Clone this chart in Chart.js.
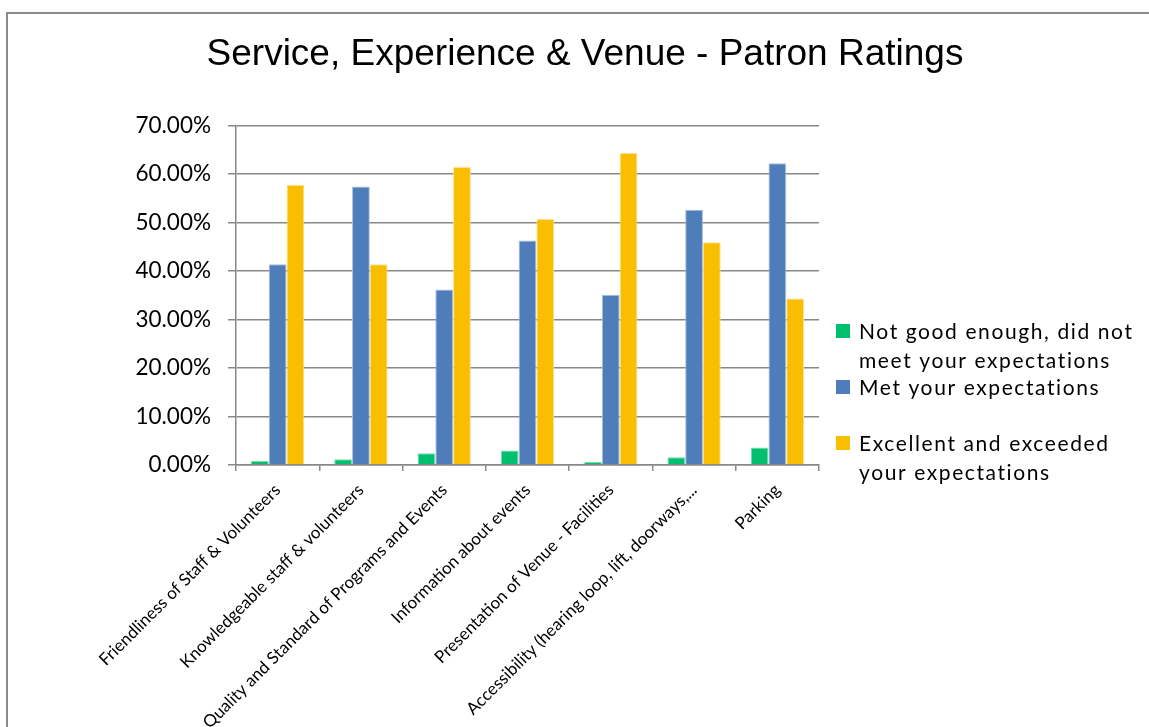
<!DOCTYPE html>
<html>
<head>
<meta charset="utf-8">
<title>Service, Experience & Venue - Patron Ratings</title>
<script src="https://cdn.jsdelivr.net/npm/chart.js@4.4.1/dist/chart.umd.min.js"></script>
<style>
    html, body { margin: 0; padding: 0; background: #fff; overflow: hidden; }
    .frame {
        position: absolute; left: 6px; top: 12px; width: 1300px; height: 900px;
        border-left: 2px solid #8a8a8a; border-top: 2px solid #8a8a8a;
    }
    .wrap { position: absolute; left: 0; top: 0; width: 1170px; height: 727px; }
</style>
</head>
<body>
<div class="frame"></div>
<div class="wrap"><canvas id="ratingsChart"></canvas></div>
<script>
// chart data (percent of patrons)
const categories = [
    'Friendliness of Staff & Volunteers',
    'Knowledgeable staff & volunteers',
    'Quality and Standard of Programs and Events',
    'Information about events',
    'Presentation of Venue - Facilities',
    'Accessibility (hearing loop, lift, doorways,...',
    'Parking'
];
const seriesNames = [
    ['Not good enough, did not', 'meet your expectations'],
    ['Met your expectations'],
    ['Excellent and exceeded', 'your expectations']
];
const notGoodEnough = [0.8, 1.2, 2.4, 3.0, 0.6, 1.6, 3.6];
const metExpectations = [41.4, 57.4, 36.2, 46.3, 35.1, 52.6, 62.2];
const exceededExpectations = [57.7, 41.4, 61.4, 50.7, 64.3, 45.9, 34.3];
const yTicks = [0, 10, 20, 30, 40, 50, 60, 70];

const colors = ['#00BF6F', '#4F7DB9', '#F9BE00'];
const borders = ['#7fdcb0', '#a6bedd', '#fde08a'];

// legend in Excel style, drawn to the right of the plot
const legendY = [332, 388, 444];
const sideLegend = {
    id: 'sideLegend',
    afterDraw(chart) {
        const ctx = chart.ctx;
        const x = chart.chartArea.right + 17;
        ctx.save();
        ctx.font = '21px Lato';
        ctx.letterSpacing = '1.6px';
        ctx.textBaseline = 'middle';
        seriesNames.forEach(function (lines, i) {
            ctx.fillStyle = colors[i];
            ctx.fillRect(x, legendY[i] - 8, 14, 14);
            ctx.fillStyle = '#000';
            lines.forEach(function (line, j) {
                ctx.fillText(line, x + 23, legendY[i] + j * 29);
            });
        });
        ctx.restore();
    }
};

const seriesData = [notGoodEnough, metExpectations, exceededExpectations];

new Chart(document.getElementById('ratingsChart'), {
    type: 'bar',
    data: {
        labels: categories,
        datasets: seriesData.map(function (values, i) {
            return {
                label: seriesNames[i].join(' '),
                data: values,
                backgroundColor: colors[i],
                borderColor: borders[i],
                borderWidth: 1,
                categoryPercentage: 0.64,
                barPercentage: 1
            };
        })
    },
    options: {
        responsive: true,
        maintainAspectRatio: false,
        animation: false,
        layout: { padding: 0 },
        plugins: {
            legend: { display: false },
            tooltip: { enabled: false },
            title: {
                display: true,
                text: 'Service, Experience & Venue - Patron Ratings',
                color: '#000',
                font: { family: 'Liberation Sans', size: 37, weight: 'normal' },
                padding: { top: 33, bottom: 48 }
            }
        },
        scales: {
            x: {
                offset: true,
                grid: {
                    offset: true,
                    drawOnChartArea: false,
                    tickLength: 6,
                    color: '#888',
                    lineWidth: 1.5
                },
                border: { color: '#888', width: 1.5 },
                ticks: {
                    autoSkip: false,
                    minRotation: 45,
                    maxRotation: 45,
                    padding: 9,
                    color: '#000',
                    font: { family: 'Lato', size: 17 }
                },
                afterFit: function (scale) { scale.height = 262; }
            },
            y: {
                min: 0,
                max: 70,
                afterBuildTicks: function (scale) {
                    scale.ticks = yTicks.map(function (v) { return { value: v }; });
                },
                grid: { color: '#888', lineWidth: 1.5, tickLength: 8 },
                border: { color: '#888', width: 1.5 },
                ticks: {
                    padding: 17,
                    color: '#000',
                    font: { family: 'Lato', size: 22.5 },
                    callback: function (v) { return v.toFixed(2) + '%'; }
                },
                afterFit: function (scale) { scale.width = 236; }
            },
            spacer: {
                type: 'linear',
                position: 'right',
                grid: { display: false },
                border: { display: false },
                ticks: { display: false },
                afterFit: function (scale) { scale.width = 351; }
            }
        }
    },
    plugins: [sideLegend]
});
</script>
</body>
</html>
